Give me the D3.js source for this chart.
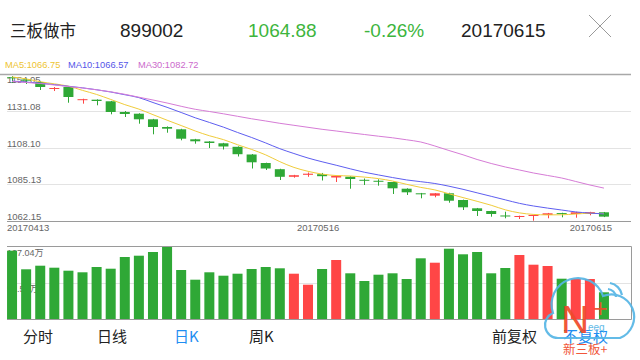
<!DOCTYPE html>
<html><head><meta charset="utf-8">
<script src="https://cdn.jsdelivr.net/npm/d3@7"></script>
<style>
html,body{margin:0;padding:0;background:#fff;}
svg{display:block;}
text{font-family:"Liberation Sans","Noto Sans CJK SC",sans-serif;}
.cjk{font-family:"Noto Sans CJK SC",sans-serif;}
</style></head>
<body>
<svg id="c" width="640" height="360"></svg>
<script>
// ---------- data ----------
const title = "三板做市";
const code = "899002";
const lastPrice = "1064.88";
const changePct = "-0.26%";
const lastDate = "20170615";

const dates = ["20170413","20170414","20170417","20170418","20170419","20170420","20170421","20170424","20170425","20170426","20170427","20170428",
"20170502","20170503","20170504","20170505","20170508","20170509","20170510","20170511","20170512","20170515","20170516","20170517","20170518","20170519",
"20170522","20170523","20170524","20170525","20170526","20170531","20170601","20170602","20170605","20170606","20170607","20170608","20170609",
"20170612","20170613","20170614","20170615"];

const open  = [1152.0,1150.62,1149.05,1145.0,1145.93,1138.0,1137.99,1136.99,1130.3,1129.23,1125.73,1120.92,1119.48,1113.23,1111.85,1110.73,1108.54,1103.73,1098.41,1094.54,1089.78,1091.03,1091.41,1089.35,1089.85,1087.91,1087.3,1086.53,1082.34,1079.47,1077.97,1079.47,1075.28,1070.09,1068.4,1065.6,1064.65,1065.28,1065.9,1067.1,1066.53,1066.53,1067.59];
const high  = [1152.8,1151.24,1149.5,1145.9,1146.3,1138.6,1138.2,1137.2,1130.9,1129.5,1126.0,1121.3,1119.8,1113.5,1112.1,1111.0,1108.8,1104.0,1098.6,1094.8,1091.0,1092.47,1092.2,1090.6,1090.1,1088.72,1088.22,1086.8,1082.6,1079.7,1079.6,1079.8,1075.5,1070.3,1068.6,1067.96,1065.5,1066.1,1067.2,1067.3,1067.9,1067.9,1067.8];
const low   = [1148.4,1147.8,1144.05,1143.4,1136.1,1135.5,1134.49,1128.86,1127.17,1122.98,1116.35,1117.35,1112.6,1110.48,1107.79,1106.85,1102.48,1094.97,1094.04,1087.78,1089.22,1089.78,1087.47,1086.53,1082.34,1084.66,1084.22,1079.03,1078.41,1076.34,1076.97,1073.59,1069.03,1065.28,1064.84,1063.84,1063.4,1062.34,1063.84,1064.46,1064.21,1065.71,1064.6];
const close = [1151.5,1149.87,1145.93,1145.3,1139.67,1138.3,1137.17,1130.3,1129.05,1125.73,1120.92,1119.86,1113.6,1111.98,1110.92,1108.73,1103.91,1098.85,1094.97,1089.78,1090.78,1091.72,1090.16,1090.41,1088.41,1087.28,1087.0,1082.59,1080.09,1078.84,1079.47,1074.84,1070.72,1068.4,1066.53,1065.2,1065.28,1065.9,1066.96,1066.8,1067.59,1067.66,1064.88];
// volume in 万
const volume = [100.15,72.88,78.15,75.22,70.82,68.48,76.25,73.75,90.91,92.82,98.24,107.04,71.85,57.63,68.48,63.49,66.42,73.32,76.25,74.34,66.42,50.29,73.32,86.51,67.01,55.72,64.96,67.01,58.65,89.0,82.55,103.08,94.87,98.24,67.01,74.78,93.84,79.62,77.71,59.09,59.09,58.65,39.15];

const ma5  = [1152.2,1151.0,1149.2,1147.9,1146.45,1143.81,1141.27,1138.15,1134.90,1132.11,1128.63,1125.17,1121.83,1118.42,1115.46,1113.02,1109.83,1106.88,1103.48,1099.25,1095.66,1093.22,1091.48,1090.57,1090.30,1089.60,1088.65,1087.14,1085.07,1083.16,1081.60,1079.17,1076.79,1074.45,1071.99,1069.14,1067.23,1066.26,1065.97,1066.03,1066.51,1066.98,1066.75];
const ma10 = [1149.6,1149.0,1148.3,1147.4,1146.4,1145.4,1144.2,1142.8,1141.1,1139.28,1136.22,1133.22,1129.99,1126.66,1123.78,1120.83,1117.50,1114.36,1110.95,1107.35,1104.34,1101.52,1099.18,1097.02,1094.77,1092.63,1090.94,1089.31,1087.82,1086.73,1085.60,1083.91,1081.97,1079.76,1077.58,1075.37,1073.19,1071.53,1070.21,1069.01,1067.82,1067.10,1066.57];
const ma30 = [1149.37,1148.74,1148.12,1147.18,1146.24,1145.30,1144.18,1142.93,1141.36,1139.55,1137.80,1135.92,1133.86,1131.99,1130.61,1129.17,1127.61,1126.05,1124.67,1123.23,1121.98,1120.73,1119.48,1118.42,1117.29,1116.23,1115.17,1114.17,1112.92,1111.54,1109.04,1106.23,1103.54,1100.60,1098.10,1095.91,1094.04,1092.16,1090.60,1089.03,1086.85,1084.66,1082.72];

const priceTicks = [1154.05,1131.08,1108.10,1085.13,1062.15];
const volTicks = [107.04,53.52];
const dateTicks = ["20170413","20170516","20170615"];
const tabs = ["分时","日线","日K","周K","前复权","不复权"];
const legendNames = ["MA5","MA10","MA30"];

// ---------- drawing ----------
const svg = d3.select("#c");
const GREEN = "#2fa836", RED = "#ff4646";
const maColors = ["#f0cc3a","#5e5ef0","#d67cd6"];
const maText = ["#eec431","#5555e8","#cc6acc"];

const x = d3.scaleBand().domain(dates).range([5, 611]).paddingInner(0.29).paddingOuter(0.145);
const cx = d => x(d) + x.bandwidth()/2;
const y = d3.scaleLinear().domain([1062.15, 1154.05]).range([221, 74]);
const yv = d3.scaleLinear().domain([0, 107.04]).range([319, 246]);
const px = v => Math.round(v) + 0.5;

// header
const hdr = svg.append("g");
hdr.append("text").attr("class","cjk").attr("x",10).attr("y",37).attr("font-size",16.5).attr("fill","#222").text(title);
hdr.append("text").attr("x",120).attr("y",37).attr("font-size",19).attr("fill","#222").text(code);
hdr.append("text").attr("x",248).attr("y",37).attr("font-size",19).attr("fill","#3db53d").text(lastPrice);
hdr.append("text").attr("x",364).attr("y",37).attr("font-size",19).attr("fill","#3db53d").text(changePct);
hdr.append("text").attr("x",461).attr("y",37).attr("font-size",19).attr("fill","#222").text(lastDate);
hdr.append("path").attr("d","M589,15L611,37M611,15L589,37").attr("stroke","#9a9a9a").attr("stroke-width",1).attr("fill","none");

// legend
const lastI = dates.length-1;
const mas = [ma5, ma10, ma30];
const legX = [5, 68, 138];
legendNames.forEach((n,k) => {
  svg.append("text").attr("x",legX[k]).attr("y",68).attr("font-size",9.3).attr("fill",maText[k])
    .text(n + ":" + mas[k][lastI].toFixed(2));
});

// price grid
const grid = svg.append("g");
priceTicks.forEach((t,k) => {
  const yy = px(y(t));
  const edge = (k===0 || k===priceTicks.length-1);
  grid.append("line").attr("x1", k===0?0:7).attr("x2",631).attr("y1",yy).attr("y2",yy)
    .attr("stroke", edge ? (k===0?"#a8a8a8":"#9a9a9a") : "#e3e3e3").attr("stroke-width", k===0?1.5:1);
  grid.append("text").attr("x",7).attr("y", k===0 ? yy+8 : yy-2).attr("font-size",9.5).attr("fill","#666").text(t.toFixed(2));
});

// date labels
dateTicks.forEach((d,k) => {
  const t = svg.append("text").attr("y",231).attr("font-size",9.5).attr("fill","#666").text(d);
  if (k===0) t.attr("x",7);
  else if (k===dateTicks.length-1) t.attr("x",612).attr("text-anchor","end");
  else t.attr("x",cx(d)-4).attr("text-anchor","middle");
});

// candles
const idx = d3.range(dates.length);
const up = i => close[i] > open[i] || (close[i] === open[i] && i>0 && close[i] >= close[i-1]);
const cg = svg.append("g");
idx.forEach(i => {
  const col = up(i) ? RED : GREEN;
  const c = px(cx(dates[i]));
  cg.append("line").attr("x1",c).attr("x2",c).attr("y1",y(high[i])).attr("y2",y(low[i])).attr("stroke",col).attr("stroke-width",1);
  const y0 = y(Math.max(open[i],close[i])), y1 = y(Math.min(open[i],close[i]));
  cg.append("rect").attr("x",x(dates[i])).attr("width",x.bandwidth())
    .attr("y",y0).attr("height",Math.max(y1-y0,1)).attr("fill",col);
});

// MA lines
mas.forEach((arr,k) => {
  const line = d3.line().x((v,i)=>cx(dates[i])).y(v=>y(v)).curve(d3.curveMonotoneX);
  svg.append("path").attr("d",line(arr)).attr("fill","none").attr("stroke",maColors[k]).attr("stroke-width",1);
});

// volume pane
const vg = svg.append("g");
vg.append("line").attr("x1",7).attr("x2",631).attr("y1",px(yv(53.52))).attr("y2",px(yv(53.52))).attr("stroke","#e3e3e3");
vg.append("text").attr("x",7).attr("y",256).attr("font-size",9).attr("fill","#666").text(volTicks[0].toFixed(2)+"万");
vg.append("text").attr("x",7).attr("y",292).attr("font-size",9).attr("fill","#666").text(volTicks[1].toFixed(2)+"万");
idx.forEach(i => {
  const col = (i===0 ? up(i) : close[i] >= close[i-1]) ? RED : GREEN;
  vg.append("rect").attr("x",x(dates[i])).attr("width",x.bandwidth())
    .attr("y",yv(volume[i])).attr("height",yv(0)-yv(volume[i])).attr("fill",col);
});
vg.append("path").attr("d",`M7,${px(yv(107.04))}H${631.5}V${px(yv(0))}H7`).attr("fill","none").attr("stroke","#9a9a9a").attr("stroke-width",1);

// tabs
const tabX = [23, 97, 174, 249, 492, 563];
tabs.forEach((t,k) => {
  svg.append("text").attr("class","cjk").attr("x",tabX[k]).attr("y",342).attr("font-size",15)
    .attr("fill", (k===2||k===5) ? "#1f8ef1" : "#222").text(t);
});

// logo
const lg = svg.append("g").attr("opacity",0.92);
lg.append("path").attr("d","M558,338 A13,13 0 0 1 553,313 A26,26 0 0 1 603,296 A20,20 0 0 1 620,338 Z")
  .attr("fill","none").attr("stroke","#56b6e6").attr("stroke-width",2.2);
lg.append("path").attr("d","M608,289 A9,9 0 0 1 616,297 M610,283 A15,15 0 0 1 622,295").attr("fill","none").attr("stroke","#56b6e6").attr("stroke-width",2.2);
lg.append("text").attr("x",561).attr("y",333).attr("font-size",39).attr("fill","#f0492a").text("N");
lg.append("text").attr("x",593).attr("y",317).attr("font-size",25).attr("fill","#f0492a").text("+");
lg.append("text").attr("x",588).attr("y",331).attr("font-size",10).attr("fill","#56b6e6").text("eeq");
lg.append("text").attr("class","cjk").attr("x",563).attr("y",354).attr("font-size",12.5).attr("fill","#f0492a").text("新三板+");
</script>
</body></html>
